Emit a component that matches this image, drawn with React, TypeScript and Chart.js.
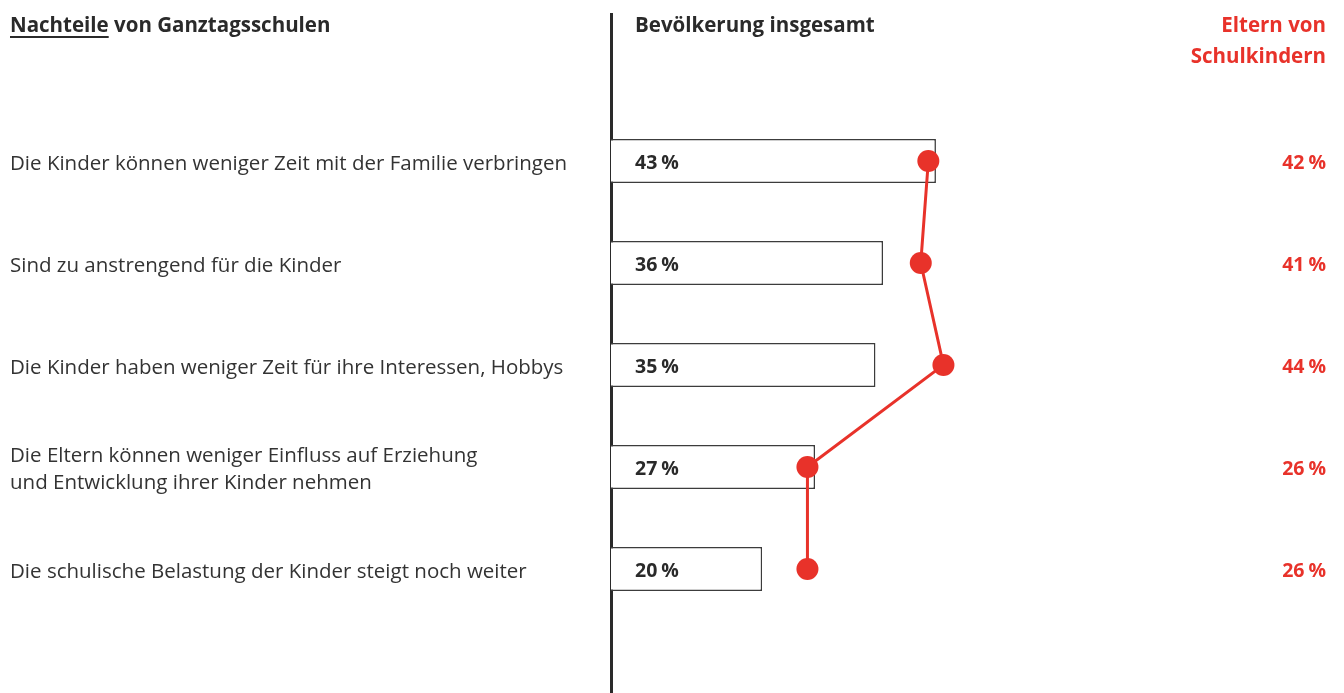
import React, { useEffect, useRef } from "react";
import { Chart, registerables } from "chart.js";

Chart.register(...registerables);

const categories: (string | string[])[] = [
  "Die Kinder können weniger Zeit mit der Familie verbringen",
  "Sind zu anstrengend für die Kinder",
  "Die Kinder haben weniger Zeit für ihre Interessen, Hobbys",
  ["Die Eltern können weniger Einfluss auf Erziehung", "und Entwicklung ihrer Kinder nehmen"],
  "Die schulische Belastung der Kinder steigt noch weiter",
];
const bevoelkerung = [43, 36, 35, 27, 20];
const eltern = [42, 41, 44, 26, 26];

const RED = "#e8322a";
const DARK = "#2a2a2a";
const FONT = "'Open Sans', 'Noto Sans', sans-serif";

export default function App() {
  const ref = useRef<HTMLCanvasElement>(null);
  useEffect(() => {
    if (!ref.current) return;
    const drawPct = (ctx: any, v: number, x: number, y: number, alignRight: boolean) => {
      const num = String(v);
      const gap = 4;
      const wn = ctx.measureText(num).width;
      const wp = ctx.measureText("%").width;
      const start = alignRight ? x - (wn + gap + wp) : x;
      ctx.textAlign = "left";
      ctx.fillText(num, start, y);
      ctx.fillText("%", start + wn + gap, y);
    };
    const overlay = {
      id: "overlay",
      beforeDraw(chart: any) {
        const ctx = chart.ctx;
        ctx.save();
        ctx.strokeStyle = DARK;
        ctx.lineWidth = 3;
        ctx.beginPath();
        ctx.moveTo(chart.chartArea.left + 0.5, 13);
        ctx.lineTo(chart.chartArea.left + 0.5, 693);
        ctx.stroke();
        // headers
        ctx.textBaseline = "alphabetic";
        ctx.font = `bold 20.5px ${FONT}`;
        ctx.fillStyle = DARK;
        ctx.textAlign = "left";
        ctx.fillText("Nachteile", 10, 32);
        const w1 = ctx.measureText("Nachteile").width;
        ctx.fillRect(10, 36, w1, 2);
        ctx.fillText(" von Ganztagsschulen", 10 + w1, 32);
        ctx.fillText("Bevölkerung insgesamt", 635, 32);
        ctx.fillStyle = RED;
        ctx.textAlign = "right";
        ctx.fillText("Eltern von", 1326, 32);
        ctx.fillText("Schulkindern", 1326, 63);
        ctx.restore();
      },
      afterDatasetsDraw(chart: any) {
        const ctx = chart.ctx;
        const y = chart.scales.y;
        ctx.save();
        ctx.font = `bold 19.5px ${FONT}`;
        ctx.textBaseline = "middle";
        bevoelkerung.forEach((v, i) => {
          const py = y.getPixelForValue(i);
          ctx.fillStyle = DARK;
          drawPct(ctx, v, 635, py + 2, false);
          ctx.fillStyle = RED;
          drawPct(ctx, eltern[i], 1326, py + 2, true);
        });
        ctx.restore();
      },
    };
    const chart = new Chart(ref.current, {
      type: "bar",
      data: {
        labels: categories,
        datasets: [
          {
            type: "line",
            data: eltern,
            borderColor: RED,
            backgroundColor: RED,
            borderWidth: 3,
            pointRadius: 11,
            pointBackgroundColor: RED,
            pointBorderWidth: 0,
            order: 0,
          } as any,
          {
            type: "bar",
            data: bevoelkerung,
            backgroundColor: "#ffffff",
            borderColor: "#3c3c3c",
            borderWidth: 1.5,
            categoryPercentage: 1,
            barPercentage: 0.43,
            order: 1,
          },
        ],
      },
      options: {
        indexAxis: "y",
        animation: false,
        responsive: false,
        layout: { padding: { left: 10, right: 53, top: 110, bottom: 73 } },
        plugins: { legend: { display: false }, tooltip: { enabled: false } },
        scales: {
          x: { display: false, min: 0, max: 90 },
          y: {
            grid: { display: false, drawTicks: false },
            border: { display: false },
            afterFit(axis: any) {
              axis.width = 601;
            },
            ticks: {
              crossAlign: "far",
              color: "#333333",
              padding: 0,
              labelOffset: 3,
              font: { family: FONT, size: 20.5, lineHeight: 1.33 },
            },
          },
        },
      },
      plugins: [overlay],
    });
    return () => chart.destroy();
  }, []);
  return (
    <div style={{ position: "absolute", left: 0, top: 0, width: 1344, height: 693, background: "#fff" }}>
      <canvas ref={ref} width={1344} height={693} style={{ width: 1344, height: 693 }} />
    </div>
  );
}
